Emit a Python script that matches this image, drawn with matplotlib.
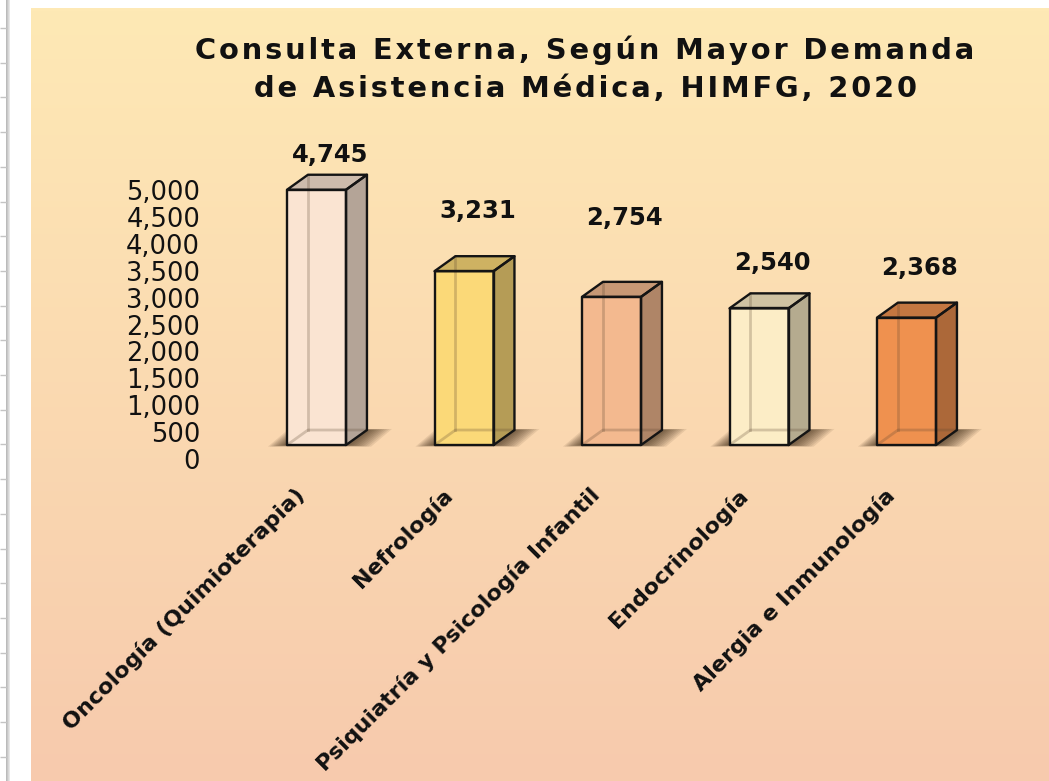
import matplotlib
matplotlib.use("Agg")
import matplotlib.pyplot as plt
from matplotlib.patches import Polygon
from matplotlib.colors import to_rgb
import numpy as np

categories = ["Oncología (Quimioterapia)", "Nefrología",
              "Psiquiatría y Psicología Infantil", "Endocrinología",
              "Alergia e Inmunología"]
values = [4745, 3231, 2754, 2540, 2368]
yticks = [0, 500, 1000, 1500, 2000, 2500, 3000, 3500, 4000, 4500, 5000]
title_lines = ["Consulta Externa, Según Mayor Demanda",
               "de Asistencia Médica, HIMFG, 2020"]

# styling / layout
bar_colors = ["#FAE4D2", "#FBD978", "#F3B98F", "#FCEDC6", "#EF914F"]
label_lift = [905, 1379, 1726, 1103, 1182]   # where excel put the value labels
hw, dx, dy, base = 0.2, 0.142, 279, 260       # fake 3d geometry
edge = "#141414"

W, H = 1049, 781
fig = plt.figure(figsize=(W / 100, H / 100), dpi=100)
fig.patch.set_facecolor("white")

# background: spreadsheet strip + gradient panel
bg = fig.add_axes([0, 0, 1, 1])
bg.set_facecolor("white")
t = np.linspace(0, 1, 256)[:, None, None]
c_top, c_bot = np.array(to_rgb("#FEE9B5")), np.array(to_rgb("#F7CAAD"))
bg.imshow(c_top + (c_bot - c_top) * t, extent=(31, W, H, 8), aspect="auto")
s = np.linspace(0, 1, 16)[None, :, None]
g0, g1 = np.array(to_rgb("#B5B5B5")), np.array(to_rgb("#EDEDED"))
bg.imshow(g0 + (g1 - g0) * s, extent=(6, 10, H, 0), aspect="auto")
bg.hlines(np.arange(28, H, 34.7), 0, 7, color="#C4C4C4", lw=1)
bg.set_xlim(0, W)
bg.set_ylim(H, 0)
bg.axis("off")

ax = fig.add_axes([205 / W, 0, 1 - 205 / W, 1])
ax.set_facecolor("none")
ax.set_xlim(-0.756, 4.966)
ax.set_ylim(-5985, 8532)
for sp in ax.spines.values():
    sp.set_visible(False)
ax.set_xticks([])
ax.set_yticks(yticks)
ax.set_yticklabels([f"{v:,}" for v in yticks])
ax.tick_params(axis="y", length=0, pad=3.5, labelsize=18.5, labelcolor="#111111")

for i, (v, c) in enumerate(zip(values, bar_colors)):
    rgb = np.array(to_rgb(c))
    x0, x1 = i - hw, i + hw
    y0, y1 = base, base + v

    # soft floor shadow
    n = 10
    for k in range(n):
        e = (n - k) / n
        xl, xr = x0 - 0.13 * e, x1 + 0.17 * e
        yb, yt = y0 - 30 * e, y0 + dy + 20 * e
        ax.add_patch(Polygon([(xl, yb), (xr, yb), (xr + dx, yt), (xl + dx, yt)],
                             closed=True, facecolor="#2A1808", edgecolor="none",
                             alpha=0.09, zorder=1))

    front = [(x0, y0), (x1, y0), (x1, y1), (x0, y1)]
    side = [(x1, y0), (x1 + dx, y0 + dy), (x1 + dx, y1 + dy), (x1, y1)]
    top = [(x0, y1), (x1, y1), (x1 + dx, y1 + dy), (x0 + dx, y1 + dy)]
    ax.add_patch(Polygon(side, closed=True, facecolor=rgb * 0.72, edgecolor="none", zorder=2))
    ax.add_patch(Polygon(top, closed=True, facecolor=rgb * 0.82, edgecolor="none", zorder=2))
    ax.add_patch(Polygon(front, closed=True, facecolor=rgb, edgecolor="none", zorder=2))

    # hidden edges seen through the glassy box
    ax.plot([x0, x0 + dx, x1 + dx], [y0, y0 + dy, y0 + dy], color="#5A4530",
            alpha=0.25, lw=2, zorder=3, solid_capstyle="round")
    ax.plot([x0 + dx, x0 + dx], [y0 + dy, y1 + dy], color="#5A4530",
            alpha=0.25, lw=2, zorder=3)

    for poly in (side, top, front):
        ax.add_patch(Polygon(poly, closed=True, facecolor="none", edgecolor=edge,
                             lw=1.7, joinstyle="round", zorder=4))

    ax.text(i + 0.09, v + label_lift[i], f"{v:,}", ha="center", va="center",
            fontsize=17.5, fontweight="bold", color="#111111", zorder=5)
    ax.text(i - 0.1, -613, categories[i], rotation=45, rotation_mode="anchor",
            ha="right", va="center", fontsize=16, fontweight="bold", color="#111111")

sp = "\u200a"
for k, line in enumerate(title_lines):
    fig.text(585 / W, 1 - (50 + 39 * k) / H, sp.join(line), ha="center", va="center",
             fontsize=20.8, fontweight="bold", color="#111111")

fig.savefig("out.png", dpi=100)
